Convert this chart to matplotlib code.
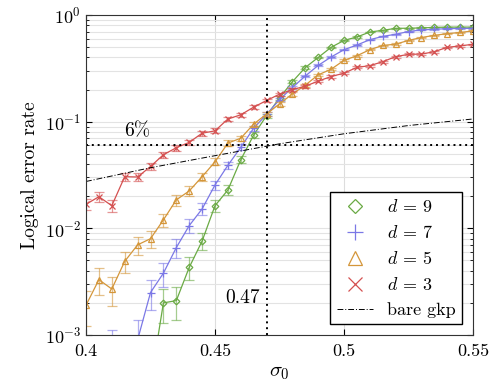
import numpy as np
import matplotlib
matplotlib.use("Agg")
import matplotlib.pyplot as plt

plt.rcParams['font.family'] = ['cmr10', 'DejaVu Serif']
plt.rcParams['mathtext.fontset'] = 'cm'
plt.rcParams['axes.formatter.use_mathtext'] = True
plt.rcParams['font.size'] = 13

# sigma_0 values (step 0.005)
sigma = np.linspace(0.40, 0.55, 31)

nan = np.nan
d3 = [0.0168, 0.0198, 0.0163, 0.0305, 0.0303, 0.038, 0.049, 0.057, 0.064, 0.078,
      0.082, 0.106, 0.116, 0.137, 0.158, 0.181, 0.200, 0.215, 0.240, 0.265,
      0.285, 0.323, 0.335, 0.365, 0.407, 0.428, 0.430, 0.453, 0.498, 0.513, 0.532]
d5 = [0.0019, 0.0033, 0.0027, 0.0049, 0.0070, 0.0080, 0.0120, 0.0185, 0.0224, 0.0305,
      0.042, 0.063, 0.070, 0.095, 0.118, 0.147, 0.182, 0.220, 0.275, 0.310,
      0.376, 0.415, 0.473, 0.518, 0.533, 0.578, 0.615, 0.645, 0.668, 0.686, 0.710]
d7 = [nan, nan, 0.0007, 0.0004, 0.0009, 0.0025, 0.0038, 0.0066, 0.0106, 0.0152,
      0.0255, 0.039, 0.0575, 0.087, 0.117, 0.161, 0.209, 0.268, 0.337, 0.404,
      0.473, 0.523, 0.587, 0.630, 0.660, 0.700, 0.725, 0.735, 0.745, 0.748, 0.750]
d9 = [nan, nan, nan, nan, nan, 0.00035, 0.0020, 0.0021, 0.0043, 0.0076,
      0.0163, 0.0229, 0.044, 0.075, 0.114, 0.167, 0.237, 0.322, 0.400, 0.498,
      0.578, 0.622, 0.693, 0.718, 0.750, 0.752, 0.757, 0.765, 0.770, 0.770, 0.770]

gkp_sigma = [0.40, 0.425, 0.45, 0.475, 0.50, 0.525, 0.55]
gkp_rate = [0.0275, 0.037, 0.048, 0.062, 0.077, 0.092, 0.106]

shots = 4000  # error bars: binomial standard error

series = [
    (d9, 'D', '#6aaa44', r'$d\,=\,9$', 3.4),
    (d7, '+', '#7b78e6', r'$d\,=\,7$', 6),
    (d5, '^', '#d4963a', r'$d\,=\,5$', 5),
    (d3, 'x', '#d45050', r'$d\,=\,3$', 4.8),
]

fig = plt.figure(figsize=(4.98, 3.88), dpi=100)
ax = fig.add_axes([0.1727, 0.1366, 0.7771, 0.8247])

handles = []
for vals, mk, col, lab, ms in series:
    p = np.array(vals)
    err = np.sqrt(p * (1 - p) / shots)
    ax.errorbar(sigma, p, yerr=err, fmt='none', ecolor=col, alpha=0.6,
                elinewidth=0.9, capsize=3.5, capthick=0.9)
    ax.plot(sigma, p, color=col, lw=0.9, marker=mk, ms=ms, mfc='none',
            mec=col, mew=0.9)
    h, = ax.plot([], [], ls='none', marker=mk, ms=ms * 2, mfc='none', mec=col,
                 mew=0.9, label=lab)
    handles.append(h)

g, = ax.plot(gkp_sigma, gkp_rate, color='black', lw=0.7, ls=(0, (6, 2, 1, 2)),
             label='bare gkp')
handles.append(g)

ax.axhline(0.06, color='black', lw=1.4, ls=(0, (1, 2)))
ax.axvline(0.47, color='black', lw=1.4, ls=(0, (1, 2)))
ax.text(0.42, 0.081, '6%', ha='center', va='center', fontsize=14)
ax.text(0.4607, 0.00223, '0.47', ha='center', va='center', fontsize=14)

ax.set_yscale('log')
ax.set_xlim(0.40, 0.55)
ax.set_ylim(1e-3, 1)
ax.set_xticks([0.40, 0.45, 0.50, 0.55])
ax.set_xticklabels(['0.4', '0.45', '0.5', '0.55'])
ax.grid(True, which='major', axis='x', color='#dddddd', lw=0.8)
ax.grid(True, which='both', axis='y', color='#e3e3e3', lw=0.8)
ax.set_axisbelow(True)
ax.tick_params(which='both', direction='in', top=True, right=True)
ax.tick_params(axis='x', pad=6)
ax.tick_params(which='major', length=4)
ax.tick_params(which='minor', length=2.5)
for s in ax.spines.values():
    s.set_color('#333333')

ax.set_xlabel(r'$\sigma_0$', fontsize=15, labelpad=4)
ax.set_ylabel('Logical error rate', fontsize=14)

ax.legend(handles=handles, loc='lower right', fancybox=False, edgecolor='black',
          framealpha=1, borderaxespad=0.6, handlelength=2.0, labelspacing=0.5,
          fontsize=13, handletextpad=0.8, borderpad=0.35)

fig.savefig('out.png', dpi=100)
